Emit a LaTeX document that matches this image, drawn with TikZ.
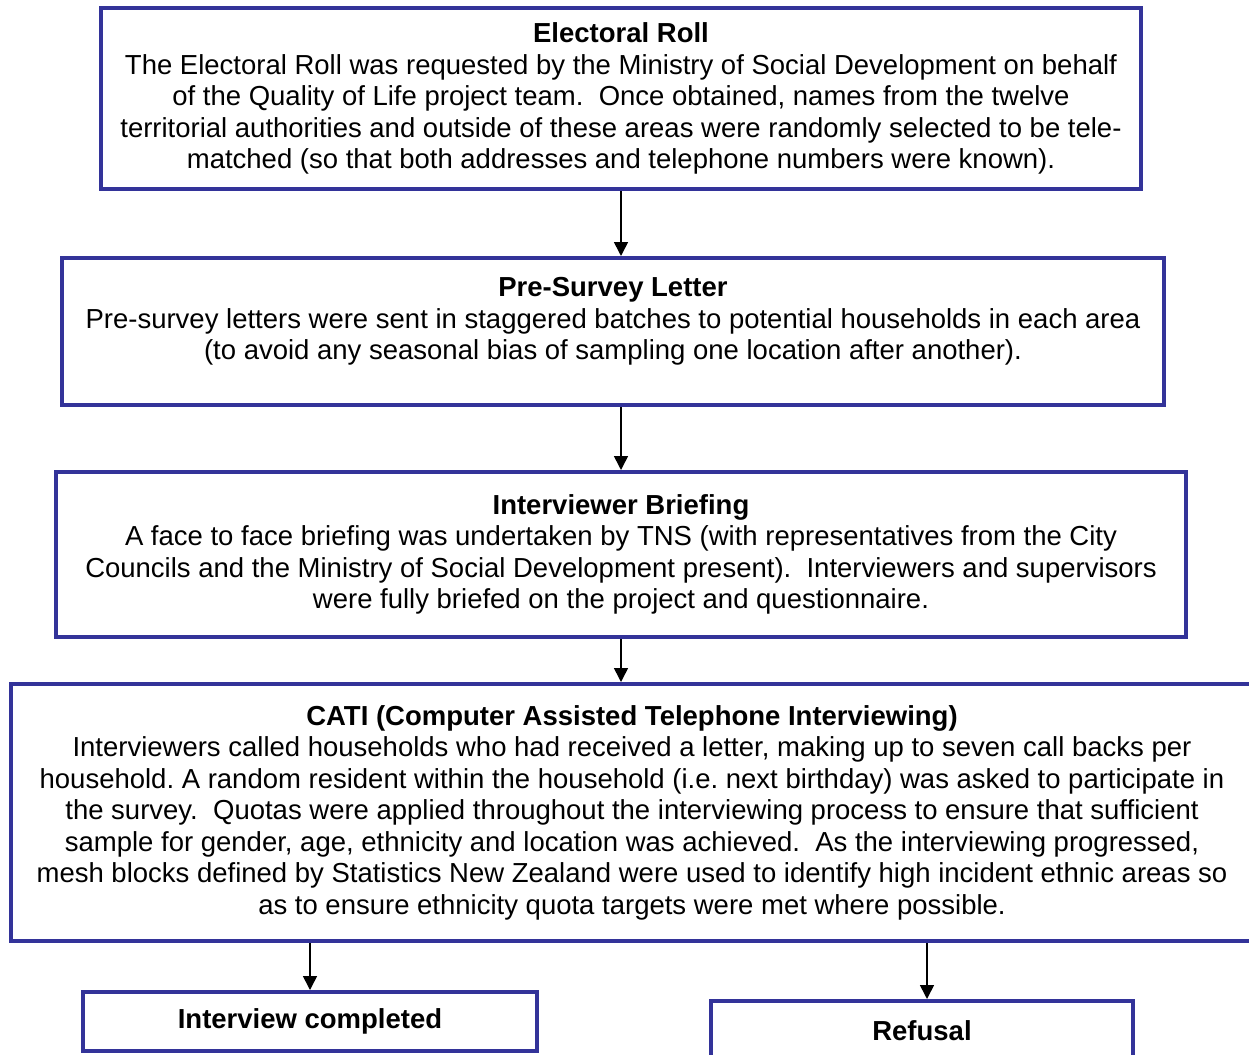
\documentclass[tikz,border=0pt]{standalone}
\usepackage{fontspec}
\setmainfont{Liberation Sans}
\usetikzlibrary{positioning, arrows.meta}
\definecolor{boxborder}{HTML}{333399}
\frenchspacing

\begin{document}
\begin{tikzpicture}[
    x=0.5pt, y=-0.5pt,
    >={Triangle[length=7pt, width=7pt]},
    box/.style={draw=boxborder, line width=2pt, align=center, inner sep=0pt,
                font=\fontsize{13.75}{15.75}\selectfont},
    flow/.style={->, line width=0.8pt},
]
\useasboundingbox (0,0) rectangle (1249,1055);
\clip (0,0) rectangle (1249,1055);

% Stage boxes, top to bottom
\node[box, minimum width=520pt, minimum height=90.5pt]
    (roll) at (621,98.5) {\textbf{Electoral Roll}\\
    The Electoral Roll was requested by the Ministry of Social Development on behalf\\
    of the Quality of Life project team.~ Once obtained, names from the twelve\\
    territorial authorities and outside of these areas were randomly selected to be tele-\\
    matched (so that both addresses and telephone numbers were known).};

\node[box, minimum width=551pt, minimum height=73.5pt]
    (letter) at (613,331.5) {\textbf{Pre-Survey Letter}\\
    Pre-survey letters were sent in staggered batches to potential households in each area\\
    (to avoid any seasonal bias of sampling one location after another).\\[-2.75pt]};

\node[box, minimum width=565pt, minimum height=82.5pt]
    (briefing) at (621,554.5) {\textbf{Interviewer Briefing}\\
    A face to face briefing was undertaken by TNS (with representatives from the City\\
    Councils and the Ministry of Social Development present).~ Interviewers and supervisors\\
    were fully briefed on the project and questionnaire.};

\node[box, minimum width=621pt, minimum height=128.5pt]
    (cati) at (632,812.5) {\textbf{CATI (Computer Assisted Telephone Interviewing)}\\
    Interviewers called households who had received a letter, making up to seven call backs per\\
    household. A random resident within the household (i.e. next birthday) was asked to participate in\\
    the survey.~ Quotas were applied throughout the interviewing process to ensure that sufficient\\
    sample for gender, age, ethnicity and location was achieved.~ As the interviewing progressed,\\
    mesh blocks defined by Statistics New Zealand were used to identify high incident ethnic areas so\\
    as to ensure ethnicity quota targets were met where possible.};

% Outcomes
\node[box, minimum width=227pt, minimum height=29.5pt]
    (completed) at (310,1021.5) {\textbf{Interview completed}};
\node[box, minimum width=211pt, minimum height=60pt, anchor=north]
    (refusal) at (922,999) {\textbf{Refusal}\\[14.25pt]};

% Arrows
\draw[flow] (roll.south) -- (roll.south |- letter.north);
\draw[flow] (roll.south |- letter.south) -- (roll.south |- briefing.north);
\draw[flow] (briefing.south) -- (briefing.south |- cati.north);
\draw[flow] (cati.south -| completed.north) -- (completed.north);
\draw[flow] ([xshift=2.5pt]cati.south -| refusal.north) -- ([xshift=2.5pt]refusal.north);

\end{tikzpicture}
\end{document}
